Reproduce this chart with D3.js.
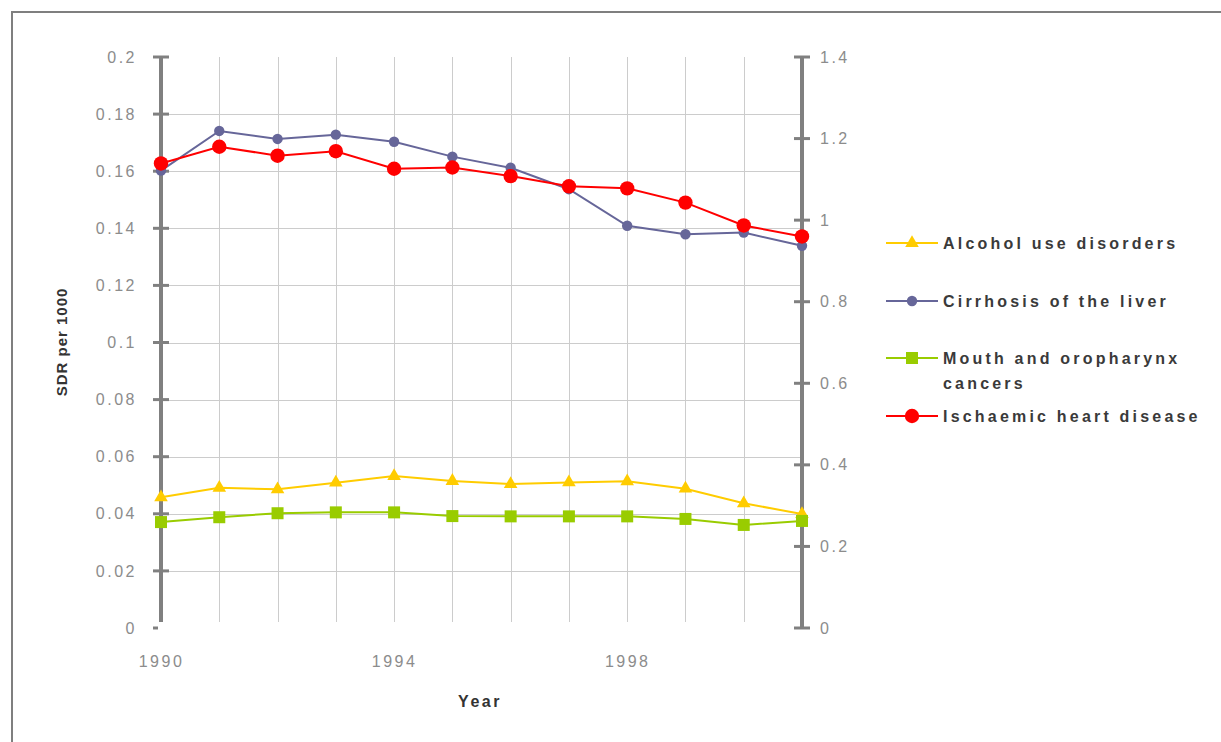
<!DOCTYPE html>
<html>
<head>
<meta charset="utf-8">
<script src="https://cdn.jsdelivr.net/npm/d3@7"></script>
<style>
  html, body { margin: 0; padding: 0; background: #fff; }
  svg { display: block; font-family: "Liberation Sans", Arial, sans-serif; }
</style>
</head>
<body>
<svg id="chart" width="1221" height="742"></svg>
<script>
// Standardised death rates per 1000, 1990–2001
const years = [1990, 1991, 1992, 1993, 1994, 1995, 1996, 1997, 1998, 1999, 2000, 2001];
const alcohol = [0.0458, 0.0491, 0.0486, 0.0509, 0.0532, 0.0515, 0.0504, 0.0510, 0.0514, 0.0488, 0.0437, 0.0399];
const cirrhosis = [0.1602, 0.1741, 0.1713, 0.1728, 0.1703, 0.1651, 0.1612, 0.1537, 0.1409, 0.1379, 0.1385, 0.1339];
const mouth = [0.0371, 0.0388, 0.0402, 0.0405, 0.0405, 0.0392, 0.0391, 0.0391, 0.0391, 0.0382, 0.0361, 0.0375];
// Ischaemic heart disease is plotted against the secondary (right) axis
const ischaemic = [1.139, 1.180, 1.158, 1.169, 1.126, 1.129, 1.108, 1.083, 1.078, 1.043, 0.987, 0.960];

const leftTicks = [0, 0.02, 0.04, 0.06, 0.08, 0.1, 0.12, 0.14, 0.16, 0.18, 0.2];
const rightTicks = [0, 0.2, 0.4, 0.6, 0.8, 1, 1.2, 1.4];
const yearLabels = [1990, 1994, 1998];

const series = [
  { name: ["Alcohol use disorders"], values: alcohol, axis: "left", color: "#FFCC00", marker: "triangle" },
  { name: ["Cirrhosis of the liver"], values: cirrhosis, axis: "left", color: "#666699", marker: "circle" },
  { name: ["Mouth and oropharynx", "cancers"], values: mouth, axis: "left", color: "#99CC00", marker: "square" },
  { name: ["Ischaemic heart disease"], values: ischaemic, axis: "right", color: "#FF0000", marker: "bigcircle" }
];

const svg = d3.select("#chart");

// outer frame
svg.append("rect")
  .attr("x", 12).attr("y", 12).attr("width", 1240).attr("height", 760)
  .attr("fill", "none").attr("stroke", "#7f7f7f").attr("stroke-width", 2);

const plot = { left: 161, right: 802, top: 57, bottom: 628 };

const x = d3.scaleLinear().domain([1990, 2001]).range([plot.left, plot.right]);
const yL = d3.scaleLinear().domain([0, 0.2]).range([plot.bottom, plot.top]);
const yR = d3.scaleLinear().domain([0, 1.4]).range([plot.bottom, plot.top]);

const tickFont = sel => sel
  .attr("fill", "#8c8c8c").style("font-size", "16px").style("letter-spacing", "2.5px")
  .attr("font-family", "Liberation Sans, Arial, sans-serif");

// gridlines
const grid = svg.append("g").attr("stroke", "#cccccc").attr("stroke-width", 1);
grid.selectAll("line.h").data(leftTicks.filter(d => d > 0 && d < 0.2)).join("line")
  .attr("x1", plot.left).attr("x2", plot.right)
  .attr("y1", d => Math.round(yL(d)) + 0.5).attr("y2", d => Math.round(yL(d)) + 0.5);
grid.selectAll("line.v").data(years).join("line")
  .attr("x1", d => Math.round(x(d)) + 0.5).attr("x2", d => Math.round(x(d)) + 0.5)
  .attr("y1", plot.top).attr("y2", plot.bottom - 6);

// left axis
const leftAxis = svg.append("g")
  .attr("transform", `translate(${plot.left},0)`)
  .call(d3.axisLeft(yL).tickValues(leftTicks).tickSize(0).tickPadding(24)
    .tickFormat(d => d3.format("~g")(d)));
leftAxis.select(".domain").remove();
leftAxis.selectAll("text").call(tickFont);
svg.append("line")
  .attr("x1", plot.left).attr("x2", plot.left)
  .attr("y1", plot.top).attr("y2", plot.bottom - 6)
  .attr("stroke", "#808080").attr("stroke-width", 4);
svg.append("g").selectAll("line").data(leftTicks).join("line")
  .attr("x1", plot.left - 8).attr("x2", d => d === 0 ? plot.left - 3 : plot.left + 8)
  .attr("y1", d => yL(d)).attr("y2", d => yL(d))
  .attr("stroke", "#808080").attr("stroke-width", 3);

// right axis
const rightAxis = svg.append("g")
  .attr("transform", `translate(${plot.right},0)`)
  .call(d3.axisRight(yR).tickValues(rightTicks).tickSize(0).tickPadding(18)
    .tickFormat(d => d3.format("~g")(d)));
rightAxis.select(".domain").remove();
rightAxis.selectAll("text").call(tickFont);
svg.append("line")
  .attr("x1", plot.right).attr("x2", plot.right)
  .attr("y1", plot.top).attr("y2", plot.bottom)
  .attr("stroke", "#808080").attr("stroke-width", 4);
svg.append("g").selectAll("line").data(rightTicks).join("line")
  .attr("x1", plot.right - 8).attr("x2", plot.right + 8)
  .attr("y1", d => yR(d)).attr("y2", d => yR(d))
  .attr("stroke", "#808080").attr("stroke-width", 3);

// x axis labels
const xAxis = svg.append("g")
  .attr("transform", `translate(0,${plot.bottom})`)
  .call(d3.axisBottom(x).tickValues(yearLabels).tickSize(0).tickPadding(28)
    .tickFormat(d3.format("d")));
xAxis.select(".domain").remove();
xAxis.selectAll("text").call(tickFont);

// axis titles
svg.append("text")
  .attr("x", 480).attr("y", 707).attr("text-anchor", "middle")
  .attr("fill", "#333").style("font-size", "16px").style("font-weight", "bold")
  .style("letter-spacing", "2.5px").text("Year");
svg.append("text")
  .attr("transform", "translate(67,342) rotate(-90)").attr("text-anchor", "middle")
  .attr("fill", "#333").style("font-size", "15px").style("font-weight", "bold")
  .style("letter-spacing", "1px").text("SDR per 1000");

// marker drawing
function drawMarker(sel, type, color) {
  if (type === "triangle") {
    sel.append("path").attr("d", d3.symbol(d3.symbolTriangle, 80)()).attr("fill", color);
  } else if (type === "square") {
    sel.append("rect").attr("x", -6).attr("y", -6).attr("width", 12).attr("height", 12).attr("fill", color);
  } else if (type === "circle") {
    sel.append("circle").attr("r", 5.2).attr("fill", color);
  } else {
    sel.append("circle").attr("r", 7.2).attr("fill", color);
  }
}

// series lines and markers
series.forEach(s => {
  const ys = s.axis === "left" ? yL : yR;
  const pts = years.map((yr, i) => [x(yr), ys(s.values[i])]);
  svg.append("path")
    .attr("d", d3.line()(pts))
    .attr("fill", "none").attr("stroke", s.color).attr("stroke-width", 2);
  const g = svg.append("g");
  pts.forEach(p => {
    const m = g.append("g").attr("transform", `translate(${p[0]},${p[1]})`);
    drawMarker(m, s.marker, s.color);
  });
});

// legend
const legendRows = [243, 301, 358, 416];
series.forEach((s, i) => {
  const y = legendRows[i];
  const g = svg.append("g").attr("transform", `translate(0,${y})`);
  g.append("line").attr("x1", 886).attr("x2", 938).attr("y1", 0).attr("y2", 0)
    .attr("stroke", s.color).attr("stroke-width", 2);
  const m = g.append("g").attr("transform", "translate(912,0)");
  drawMarker(m, s.marker, s.color);
  s.name.forEach((line, j) => {
    g.append("text").attr("x", 943).attr("y", j * 25).attr("dy", "0.35em")
      .attr("fill", "#3a3a3a").style("font-size", "16px").style("font-weight", "bold")
      .style("letter-spacing", "3.2px").text(line);
  });
});
</script>
</body>
</html>
